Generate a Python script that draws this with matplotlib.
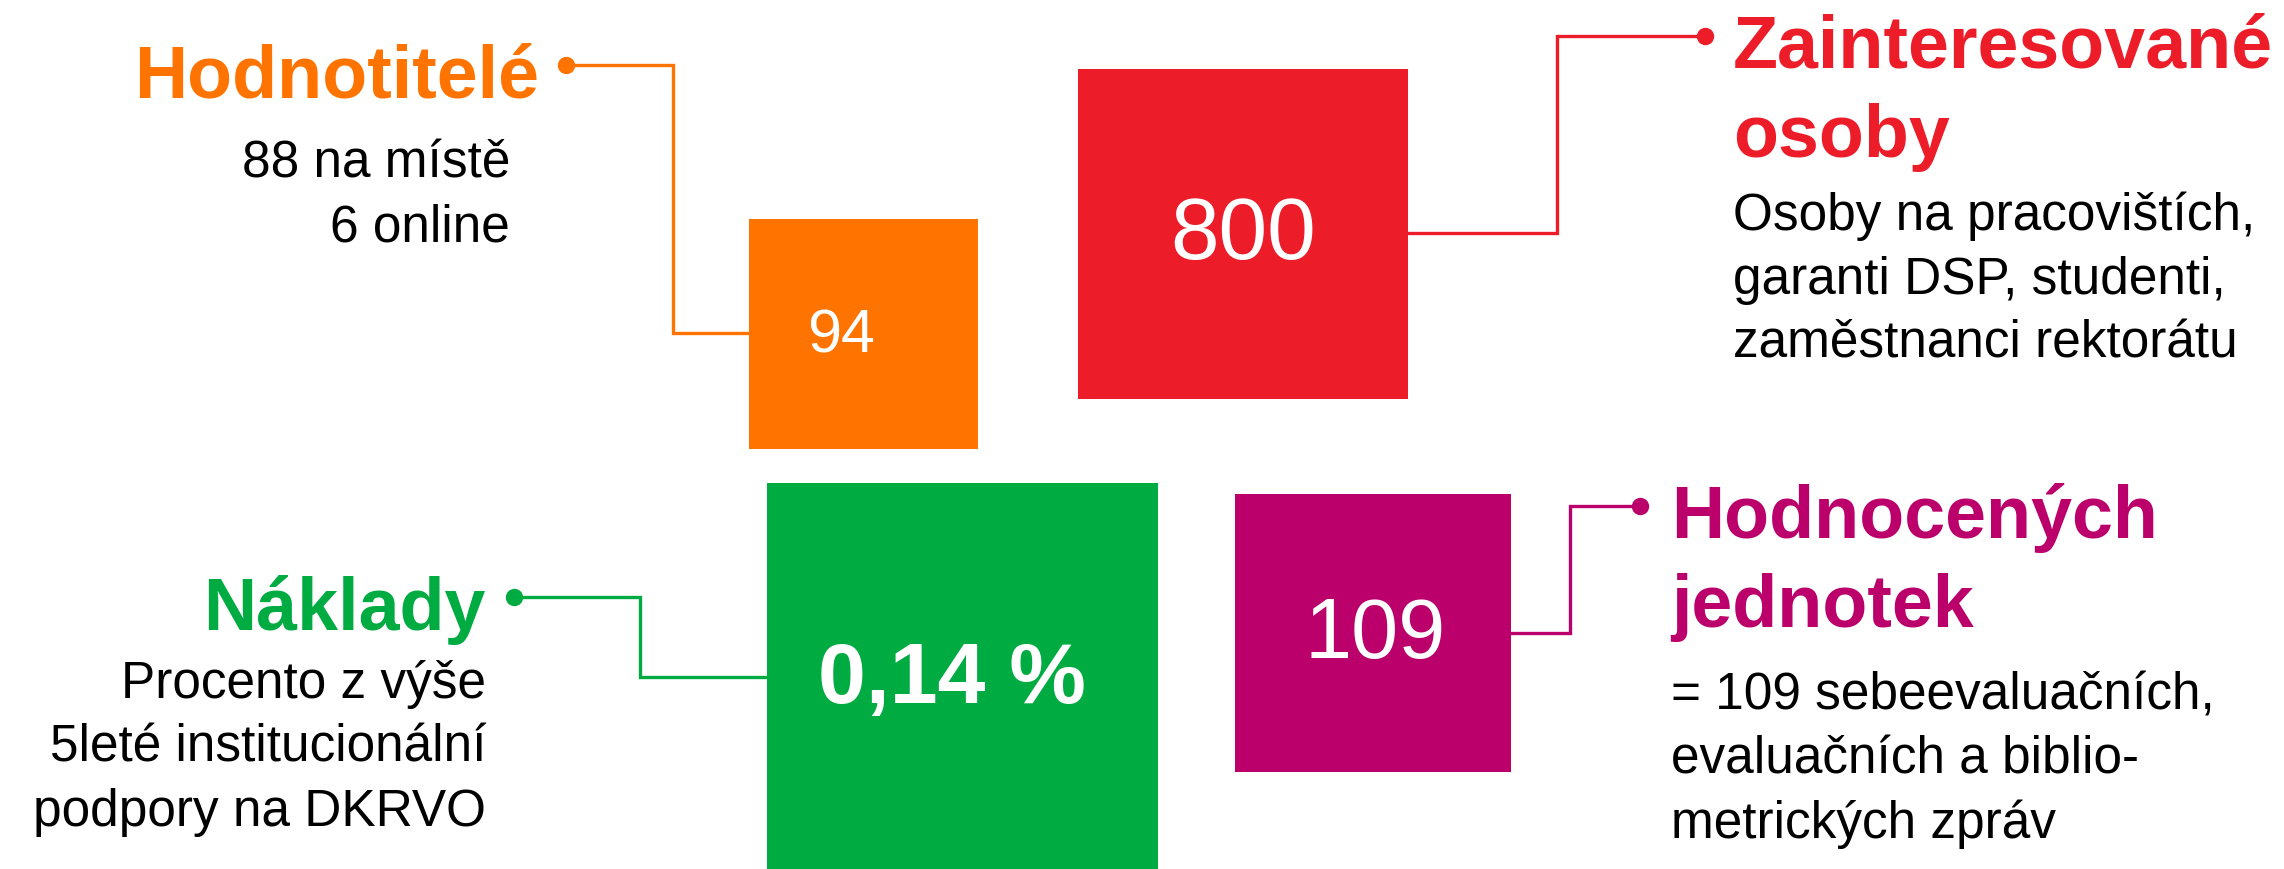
import matplotlib.pyplot as plt

# Infographic data
titles = ["Hodnotitelé", "Zainteresované\nosoby", "Náklady", "Hodnocených\njednotek"]
values = ["94", "800", "0,14 %", "109"]
notes = [
    ["88 na místě", "6 online"],
    ["Osoby na pracovištích,", "garanti DSP, studenti,", "zaměstnanci rektorátu"],
    ["Procento z výše", "5leté institucionální", "podpory na DKRVO"],
    ["= 109 sebeevaluačních,", "evaluačních a biblio-", "metrických zpráv"],
]
colors = ["#FF7300", "#ED1C29", "#00AB41", "#BB006B"]

# Layout in pixels (x0, y0, x1, y1) of each box, connector elbow x, dot position
boxes = [(749, 220, 978, 450), (1078, 70, 1408, 400), (767, 484, 1158, 870), (1235, 495, 1511, 773)]
elbow_x = [673, 1557, 640, 1570]
elbow_y = [334, 234, 678, 634]
dots = [(566, 66), (1705, 37), (514, 598), (1640, 507)]
value_pos = [(841, 337, 44, "normal"), (1243, 237, 63, "normal"), (952, 681, 62, "bold"), (1375, 636, 61, "normal")]
# title anchor: x, first baseline, alignment; note first baseline
title_pos = [(539, 97, "right"), (1733, 68, "left"), (486, 630, "right"), (1671, 538, "left")]
note_pos = [(510, 177), (1733, 230), (486, 698), (1671, 710)]

plt.rcParams['font.family'] = ['Liberation Sans', 'DejaVu Sans']

W, H = 2284, 870
fig = plt.figure(figsize=(W / 100, H / 100), dpi=100)
ax = fig.add_axes([0, 0, 1, 1])
ax.set_xlim(0, W)
ax.set_ylim(H, 0)
ax.axis('off')

for i in range(4):
    c = colors[i]
    x0, y0, x1, y1 = boxes[i]
    ax.add_patch(plt.Rectangle((x0, y0), x1 - x0, y1 - y0, color=c, lw=0))

    # connector from box side to dot
    bx = x0 if dots[i][0] < x0 else x1
    ax.plot([bx, elbow_x[i], elbow_x[i], dots[i][0]],
            [elbow_y[i], elbow_y[i], dots[i][1], dots[i][1]],
            color=c, lw=2.4, solid_joinstyle='miter')
    ax.plot(dots[i][0], dots[i][1], 'o', color=c, ms=11.5)

    vx, vy, vs, vw = value_pos[i]
    ax.text(vx, vy, values[i], color='white', fontsize=vs, fontweight=vw,
            ha='center', va='center')

    tx, ty, ta = title_pos[i]
    for k, line in enumerate(titles[i].split("\n")):
        ax.text(tx, ty + k * 89, line, color=c, fontsize=53, fontweight='bold',
                ha=ta, va='baseline')

    nx, ny = note_pos[i]
    for k, line in enumerate(notes[i]):
        ax.text(nx, ny + k * 64, line, color='black', fontsize=37,
                ha=ta, va='baseline')

fig.savefig("out.png", dpi=100)
